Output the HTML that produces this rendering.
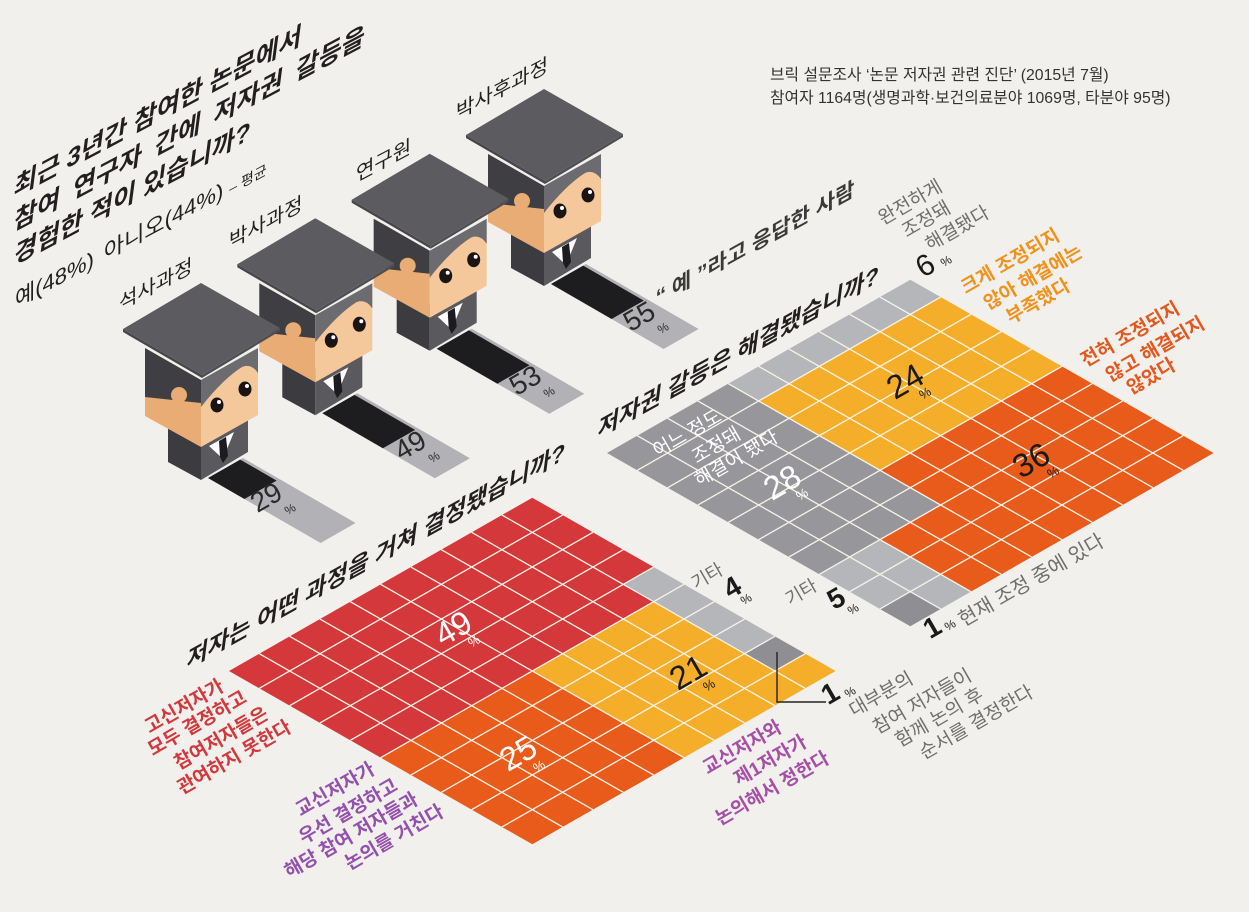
<!DOCTYPE html>
<html><head><meta charset="utf-8">
<style>
html,body{margin:0;padding:0;background:#f1f0ec;}
svg{display:block;}
text{font-family:"Liberation Sans","Noto Sans CJK KR",sans-serif;}
</style></head><body>
<svg width="1249" height="912" viewBox="0 0 1249 912" xmlns="http://www.w3.org/2000/svg">
<rect width="1249" height="912" fill="#f1f0ec"/>
<defs>
<g id="fig">
 <polygon points="-33,130 0,150 0,197 -33,179" fill="#3b3b40"/>
 <polygon points="0,150 47,124 47,169 0,197" fill="#59595e"/>
 <polygon points="8,163 33,149 22,176" fill="#ffffff"/>
 <polygon points="18,158 25,154 27,173 22,180 19,174" fill="#1c1c20"/>
 <polygon points="-56,65 0,97 0,164 -56,133" fill="#e8ac74"/>
 <polygon points="-56,65 0,97 0,120 -56,114" fill="#3e3e43"/>
 <circle cx="-22" cy="112" r="8" fill="#e8ac74"/>
 <polygon points="0,97 57,65 57,132 0,164" fill="#f4c89b"/>
 <path d="M0,97 L57,65 L57,90 Q50,80 41,84 Q22,96 0,124 Z" fill="#6b6b70"/>
 <ellipse cx="16" cy="122" rx="6.5" ry="7.5" fill="#1a1414"/>
 <ellipse cx="44" cy="106" rx="6.5" ry="7.5" fill="#1a1414"/>
 <circle cx="18" cy="119" r="2" fill="#ffffff"/>
 <circle cx="46" cy="103" r="2" fill="#ffffff"/>
 <polygon points="-78,46 1,92 1,95 -78,49" fill="#46464b"/>
 <polygon points="1,92 79,45 79,48 1,95" fill="#4e4e53"/>
 <polygon points="0,0 79,45 1,92 -78,46" fill="#5c5b60"/>
</g>
</defs>

<!-- Header text -->
<text x="770" y="80" font-size="15.8" fill="#333">브릭 설문조사 ‘논문 저자권 관련 진단’ (2015년 7월)</text>
<text x="770" y="103" font-size="15.8" fill="#333">참여자 1164명(생명과학·보건의료분야 1069명, 타분야 95명)</text>

<!-- Main title -->
<g font-weight="700" font-size="25" fill="#231f20">
<text transform="translate(13,197) skewY(-28) skewX(-8)">최근 3년간 참여한 논문에서</text>
<text transform="translate(13,231) skewY(-28) skewX(-8)" word-spacing="6">참여 연구자 간에 저자권 갈등을</text>
<text transform="translate(13,265) skewY(-28) skewX(-8)">경험한 적이 있습니까?</text>
</g>
<text transform="translate(15,308) skewY(-28)" font-size="22" fill="#231f20">예(48%)<tspan dx="10">아니오(44%)</tspan><tspan dx="6" font-size="14">– 평균</tspan></text>

<!-- Figure labels -->
<g font-size="20" fill="#231f20">
<text transform="translate(119,311) skewY(-28)">석사과정</text>
<text transform="translate(229,249) skewY(-28)">박사과정</text>
<text transform="translate(356,182) skewY(-28)">연구원</text>
<text transform="translate(456,120) skewY(-28)">박사후과정</text>
</g>

<!-- Bars -->
<g transform="translate(201,283)">
 <polygon points="7,195 42,175 154.6,240 119.6,260" fill="#b2b2b6"/>
 <polygon points="7,195 39.2,176.6 75.6,197.6 43.4,216" fill="#1d1d20"/>
</g>
<g transform="translate(315.3,218.3)">
 <polygon points="7,195 42,175 154.6,240 119.6,260" fill="#b2b2b6"/>
 <polygon points="7,195 39.2,176.6 99.8,211.6 67.6,230" fill="#1d1d20"/>
</g>
<g transform="translate(429.7,153.7)">
 <polygon points="7,195 42,175 154.6,240 119.6,260" fill="#b2b2b6"/>
 <polygon points="7,195 39.2,176.6 99.8,211.6 67.6,230" fill="#1d1d20"/>
</g>
<g transform="translate(544,89)">
 <polygon points="7,195 42,175 154.6,240 119.6,260" fill="#b2b2b6"/>
 <polygon points="7,195 39.2,176.6 99.8,211.6 67.6,230" fill="#1d1d20"/>
</g>

<!-- Figures back to front -->
<use href="#fig" transform="translate(544,89)"/>
<use href="#fig" transform="translate(429.7,153.7)"/>
<use href="#fig" transform="translate(315.3,218.3)"/>
<use href="#fig" transform="translate(201,283)"/>

<!-- Bar numbers -->
<g fill="#2a2a2a" text-anchor="middle">
<text transform="translate(266,497) rotate(-30)" dy="0.35em" font-size="28">29</text>
<text transform="translate(290,509) rotate(-30)" dy="0.35em" font-size="12">%</text>
<text transform="translate(410,445) rotate(-30)" dy="0.35em" font-size="28">49</text>
<text transform="translate(434,457) rotate(-30)" dy="0.35em" font-size="12">%</text>
<text transform="translate(525,380) rotate(-30)" dy="0.35em" font-size="28">53</text>
<text transform="translate(549,392) rotate(-30)" dy="0.35em" font-size="12">%</text>
<text transform="translate(639,316) rotate(-30)" dy="0.35em" font-size="28">55</text>
<text transform="translate(663,328) rotate(-30)" dy="0.35em" font-size="12">%</text>
</g>

<text transform="translate(755,243) skewY(-29)" text-anchor="middle" dy="0.35em" font-size="21" font-weight="700" fill="#3a3a3a">“ 예 ”라고 응답한 사람</text>

<!-- Right grid -->
<g transform="matrix(30.33,-17.33,30.33,17.33,607,453)">
 <polygon points="4,0 10,0 10,1 4,1" fill="#b5b6ba"/>
 <polygon points="0,0 4,0 4,7 0,7" fill="#97979b"/>
 <polygon points="4,1 10,1 10,5 4,5" fill="#f5ae29"/>
 <polygon points="4,5 10,5 10,10 2,10 2,7 4,7" fill="#e95b1b"/>
 <polygon points="0,7 2,7 2,10 1,10 1,9 0,9" fill="#b5b6ba"/>
 <polygon points="0,9 1,9 1,10 0,10" fill="#8f8f93"/>
 <path d="M1,0V10M2,0V10M3,0V10M4,0V10M5,0V10M6,0V10M7,0V10M8,0V10M9,0V10M0,1H10M0,2H10M0,3H10M0,4H10M0,5H10M0,6H10M0,7H10M0,8H10M0,9H10" stroke="#f7f3e8" stroke-width="1.3" vector-effect="non-scaling-stroke" fill="none"/>
</g>

<!-- Bottom grid -->
<g transform="matrix(30.33,-17.33,30.33,17.33,229,671)">
 <polygon points="0,0 10,0 10,4 9,4 9,5 0,5" fill="#d5383a"/>
 <polygon points="9,4 10,4 10,8 9,8" fill="#b5b6ba"/>
 <polygon points="9,8 10,8 10,9 9,9" fill="#8f8f93"/>
 <polygon points="5,5 9,5 9,9 10,9 10,10 5,10" fill="#f5ae29"/>
 <polygon points="0,5 5,5 5,10 0,10" fill="#e95b1b"/>
 <path d="M1,0V10M2,0V10M3,0V10M4,0V10M5,0V10M6,0V10M7,0V10M8,0V10M9,0V10M0,1H10M0,2H10M0,3H10M0,4H10M0,5H10M0,6H10M0,7H10M0,8H10M0,9H10" stroke="#f7f3e8" stroke-width="1.3" vector-effect="non-scaling-stroke" fill="none"/>
</g>

<polyline points="777,652 777,702 826,702" fill="none" stroke="#222" stroke-width="1.4"/>

<!-- Grid titles -->
<text transform="translate(597,438) skewY(-29) skewX(-8)" font-size="23" font-weight="700" fill="#231f20">저자권 갈등은 해결됐습니까?</text>
<text transform="translate(186,669) skewY(-29) skewX(-8)" font-size="23" font-weight="700" fill="#231f20">저자는 어떤 과정을 거쳐 결정됐습니까?</text>

<!-- Grid numbers -->
<g text-anchor="middle">
<text transform="translate(453,628) rotate(-30)" dy="0.35em" font-size="33" fill="#fff">49</text>
<text transform="translate(474,641) rotate(-30)" dy="0.35em" font-size="13" fill="#fff">%</text>
<text transform="translate(518,753) rotate(-30)" dy="0.35em" font-size="33" fill="#fff">25</text>
<text transform="translate(539,766) rotate(-30)" dy="0.35em" font-size="13" fill="#fff">%</text>
<text transform="translate(688,672) rotate(-30)" dy="0.35em" font-size="33" fill="#1a1a1a">21</text>
<text transform="translate(709,685) rotate(-30)" dy="0.35em" font-size="13" fill="#1a1a1a">%</text>
<text transform="translate(905,381) rotate(-30)" dy="0.35em" font-size="33" fill="#1a1a1a">24</text>
<text transform="translate(925,393) rotate(-30)" dy="0.35em" font-size="13" fill="#1a1a1a">%</text>
<text transform="translate(1031,460) rotate(-30)" dy="0.35em" font-size="33" fill="#1a1a1a">36</text>
<text transform="translate(1053,472) rotate(-30)" dy="0.35em" font-size="13" fill="#1a1a1a">%</text>
<text transform="translate(782,482) rotate(-30)" dy="0.35em" font-size="33" fill="#fff">28</text>
<text transform="translate(802,494) rotate(-30)" dy="0.35em" font-size="13" fill="#fff">%</text>

<text transform="translate(925,265) rotate(-30)" dy="0.35em" font-size="30" fill="#1a1a1a">6</text>
<text transform="translate(946,261) rotate(-30)" dy="0.35em" font-size="12" fill="#1a1a1a">%</text>
<text transform="translate(732,587) rotate(-30)" dy="0.35em" font-size="28" font-weight="700" fill="#1a1a1a">4</text>
<text transform="translate(746,599) rotate(-30)" dy="0.35em" font-size="12" fill="#1a1a1a">%</text>
<text transform="translate(836,598) rotate(-30)" dy="0.35em" font-size="28" font-weight="700" fill="#1a1a1a">5</text>
<text transform="translate(853,609) rotate(-30)" dy="0.35em" font-size="12" fill="#1a1a1a">%</text>
<text transform="translate(932,627) rotate(-30)" dy="0.35em" font-size="28" font-weight="700" fill="#1a1a1a">1</text>
<text transform="translate(950,625) rotate(-30)" dy="0.35em" font-size="12" fill="#1a1a1a">%</text>
<text transform="translate(830,693) rotate(-30)" dy="0.35em" font-size="28" font-weight="700" fill="#1a1a1a">1</text>
<text transform="translate(850,692) rotate(-30)" dy="0.35em" font-size="12" fill="#1a1a1a">%</text>
</g>

<!-- Labels -->
<g text-anchor="middle" font-size="19">
<g fill="#ffffff">
<text transform="translate(687,433) rotate(-30)" dy="0.35em">어느 정도</text>
<text transform="translate(716,445) rotate(-30)" dy="0.35em">조정돼</text>
<text transform="translate(736,458) rotate(-30)" dy="0.35em">해결이 됐다</text>
</g>
<g fill="#6f6f6f">
<text transform="translate(910,202) rotate(-30)" dy="0.35em">완전하게</text>
<text transform="translate(926,219) rotate(-30)" dy="0.35em">조정돼</text>
<text transform="translate(957,228) rotate(-30)" dy="0.35em">해결됐다</text>
<text transform="translate(707,576) rotate(-30)" dy="0.35em" font-size="18">기타</text>
<text transform="translate(801,592) rotate(-30)" dy="0.35em" font-size="18">기타</text>
<text transform="translate(1031,580) rotate(-30)" dy="0.35em" font-size="20">현재 조정 중에 있다</text>
<text transform="translate(881,694) rotate(-30)" dy="0.35em">대부분의</text>
<text transform="translate(922,701) rotate(-30)" dy="0.35em">참여 저자들이</text>
<text transform="translate(939,717) rotate(-30)" dy="0.35em">함께 논의 후</text>
<text transform="translate(976,722) rotate(-30)" dy="0.35em">순서를 결정한다</text>
</g>
<g fill="#f0921c" font-weight="700">
<text transform="translate(1010,261) rotate(-30)" dy="0.35em">크게 조정되지</text>
<text transform="translate(1033,277) rotate(-30)" dy="0.35em">않아 해결에는</text>
<text transform="translate(1038,301) rotate(-30)" dy="0.35em">부족했다</text>
</g>
<g fill="#e4581d" font-weight="700">
<text transform="translate(1130,334) rotate(-30)" dy="0.35em">전혀 조정되지</text>
<text transform="translate(1155,349) rotate(-30)" dy="0.35em">않고 해결되지</text>
<text transform="translate(1151,376) rotate(-30)" dy="0.35em">않았다</text>
</g>
<g fill="#d2383c" font-weight="700">
<text transform="translate(184,706) rotate(-30)" dy="0.35em">고신저자가</text>
<text transform="translate(197,723) rotate(-30)" dy="0.35em">모두 결정하고</text>
<text transform="translate(221,738) rotate(-30)" dy="0.35em">참여저자들은</text>
<text transform="translate(234,757) rotate(-30)" dy="0.35em">관여하지 못한다</text>
</g>
<g fill="#9350ad" font-weight="700">
<text transform="translate(335,789) rotate(-30)" dy="0.35em">교신저자가</text>
<text transform="translate(348,811) rotate(-30)" dy="0.35em">우선 결정하고</text>
<text transform="translate(351,835) rotate(-30)" dy="0.35em">해당 참여 저자들과</text>
<text transform="translate(394,837) rotate(-30)" dy="0.35em">논의를 거친다</text>
</g>
<g fill="#a64fa6" font-weight="700">
<text transform="translate(742,747) rotate(-30)" dy="0.35em">교신저자와</text>
<text transform="translate(770,760) rotate(-30)" dy="0.35em">제1저자가</text>
<text transform="translate(772,788) rotate(-30)" dy="0.35em">논의해서 정한다</text>
</g>
</g>
</svg>
</body></html>
